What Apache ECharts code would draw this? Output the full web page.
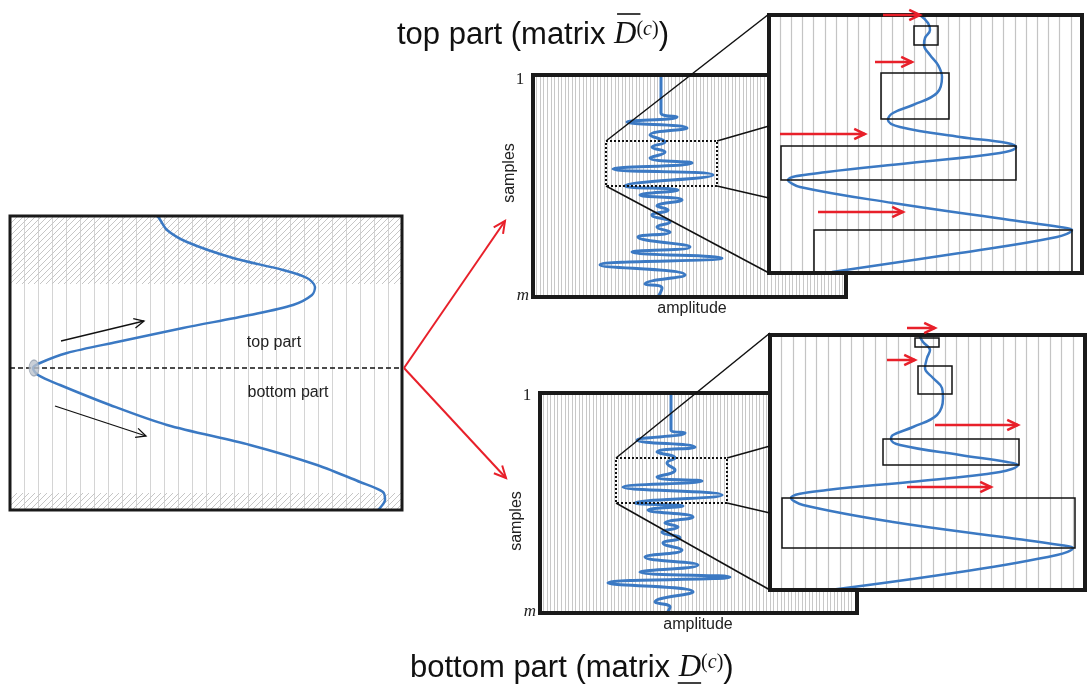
<!DOCTYPE html>
<html>
<head>
<meta charset="utf-8">
<script src="https://cdn.jsdelivr.net/npm/echarts@6/dist/echarts.min.js"></script>
<style>
html, body { margin: 0; padding: 0; background: #fff; }
#chart { width: 1088px; height: 689px; }
</style>
</head>
<body>
<div id="chart"></div>
<script>
// left panel: one wavelet, [amplitude, sample]
var leftCurve = [[147,0],[149,2],[157,14],[177,26],[223,42],[273,54],[297,62],[305,71],[302,79],[283,89],[240,99],[173,112],[107,126],[57,137],[30,147],[23,152],[28,159],[50,169],[100,189],[157,209],[240,229],[307,249],[350,266],[373,276],[375,284],[370,292],[368,294]];
var splitSample = 152;
var splitPoint = [[24, 152]];
var hatchTop = [0, 68];
var hatchBottom = [277, 294];

// seismic traces, [amplitude, sample]
var topTrace = [[0,0],[0,38],[16,42],[-34,47],[26,53],[-11,60],[4,67],[-9,72],[4,77],[-11,83],[31,88],[-48,94],[52,100],[-36,111],[17,115],[-21,120],[21,125],[-4,131],[7,135],[-9,140],[9,147],[-4,152],[9,157],[-23,162],[29,172],[-29,177],[61,183],[-61,190],[24,200],[-16,209],[1,213],[-3,222]];
var bottomTrace = [[0,0],[0,37],[14,40],[-34,47],[24,54],[-14,59],[4,65],[-4,70],[4,77],[-14,84],[31,88],[-48,94],[51,102],[-36,110],[12,113],[-23,117],[22,124],[-6,130],[7,134],[-9,139],[9,145],[-8,150],[11,157],[-26,164],[27,172],[-31,179],[59,184],[-63,190],[22,199],[-16,209],[-1,214],[-4,220]];
var topWindow = [[-55, 66], [56, 111]];
var bottomWindow = [[-55, 65], [56, 110]];

// zoomed windows
var topZoomCurve = [[151,0],[159,8],[161,15],[156,23],[155,30],[161,40],[169,50],[173,62],[168,78],[144,90],[124,98],[119,105],[131,112],[191,122],[238,128],[247,132],[231,138],[141,148],[58,157],[19,165],[31,172],[124,188],[241,205],[291,212],[303,215],[288,222],[191,238],[63,257]];
var topZoomBoxes = [[[145,11],[169,30]], [[112,58],[180,104]], [[12,131],[247,165]], [[45,215],[303,258]]];
var bottomZoomCurve = [[149,0],[153,7],[160,15],[157,23],[155,33],[163,43],[172,53],[173,63],[167,80],[143,92],[123,100],[121,104],[130,110],[190,120],[237,127],[248,130],[230,137],[140,147],[57,155],[21,163],[33,170],[123,187],[240,203],[290,210],[303,213],[287,220],[190,237],[60,255]];
var bottomZoomBoxes = [[[145,3],[169,12]], [[148,31],[182,59]], [[113,104],[249,130]], [[12,163],[305,213]]];

var BLUE = '#3b79c3';
var RED = '#e8202a';

// panel frames: left, top, width, height, border, z
var panels = [
  [10, 216, 392, 294, 3, 0],
  [533, 75, 313, 222, 4, 0],
  [769, 15, 313, 258, 4, 5],
  [540, 393, 317, 220, 4, 0],
  [770, 335, 315, 255, 4, 5]
];

var hatch = document.createElement('canvas');
hatch.width = 6; hatch.height = 6;
var hc = hatch.getContext('2d');
hc.strokeStyle = '#c6c6c6';
hc.lineWidth = 1;
hc.beginPath();
hc.moveTo(0, 6); hc.lineTo(6, 0);
hc.moveTo(-1, 1); hc.lineTo(1, -1);
hc.moveTo(5, 7); hc.lineTo(7, 5);
hc.stroke();

var mctx = document.createElement('canvas').getContext('2d');
function textW(t, font) { mctx.font = font; return mctx.measureText(t).width; }

function xAxis(gi, min, max, interval, color, width, z) {
  return {
    type: 'value', gridIndex: gi, min: min, max: max, interval: interval, z: z,
    axisLine: { show: false }, axisTick: { show: false }, axisLabel: { show: false },
    splitLine: { show: true, lineStyle: { color: color, width: width } }
  };
}
function yAxis(gi, max, z) {
  return {
    type: 'value', gridIndex: gi, min: 0, max: max, inverse: true, z: z,
    axisLine: { show: false }, axisTick: { show: false }, axisLabel: { show: false },
    splitLine: { show: false }
  };
}
function boxes(list, z, dotted) {
  return {
    silent: true, z: z,
    itemStyle: { color: 'rgba(0,0,0,0)', borderColor: '#111', borderWidth: dotted ? 2 : 1.5, borderType: dotted ? 'dotted' : 'solid' },
    data: list.map(function (b) { return [{ coord: b[0] }, { coord: b[1] }]; })
  };
}
function arrow(x1, y1, x2, y2, color, lw, head) {
  var ang = Math.atan2(y2 - y1, x2 - x1), a = 0.45;
  return [
    { type: 'line', z: 50, shape: { x1: x1, y1: y1, x2: x2, y2: y2 }, style: { stroke: color, lineWidth: lw } },
    { type: 'polyline', z: 50, shape: { points: [
      [x2 - head * Math.cos(ang - a), y2 - head * Math.sin(ang - a)], [x2, y2],
      [x2 - head * Math.cos(ang + a), y2 - head * Math.sin(ang + a)]] },
      style: { stroke: color, lineWidth: lw, fill: null } }
  ];
}
function seg(x1, y1, x2, y2, lw) {
  return { type: 'line', z: 40, shape: { x1: x1, y1: y1, x2: x2, y2: y2 }, style: { stroke: '#111', lineWidth: lw } };
}
function label(txt, x, y, font, rot) {
  return { type: 'text', z: 60, x: x, y: y, rotation: rot || 0,
    style: { text: txt, font: font, fill: '#222', textAlign: 'center', textVerticalAlign: 'middle' } };
}

var myChart = echarts.init(document.getElementById('chart'));

var graphics = [];
// frames drawn above their own content, below the next panel
panels.forEach(function (p) {
  graphics.push({ type: 'rect', z: p[5] + 4, shape: { x: p[0], y: p[1], width: p[2], height: p[3] },
    style: { fill: null, stroke: '#1a1a1a', lineWidth: p[4] } });
});
graphics = graphics.concat(arrow(404, 368, 505, 221, RED, 2, 13));
graphics = graphics.concat(arrow(404, 368, 506, 478, RED, 2, 13));
graphics = graphics.concat(arrow(61, 341, 144, 321, '#111', 1.3, 11));
graphics = graphics.concat(arrow(55, 406, 146, 436, '#111', 1.3, 11));
// red arrows in zoom windows
graphics = graphics.concat(arrow(883, 15, 920, 15, RED, 2.5, 12));
graphics = graphics.concat(arrow(875, 62, 912, 62, RED, 2.5, 12));
graphics = graphics.concat(arrow(780, 134, 865, 134, RED, 2.5, 12));
graphics = graphics.concat(arrow(818, 212, 903, 212, RED, 2.5, 12));
graphics = graphics.concat(arrow(907, 328, 935, 328, RED, 2.5, 12));
graphics = graphics.concat(arrow(887, 360, 915, 360, RED, 2.5, 12));
graphics = graphics.concat(arrow(935, 425, 1018, 425, RED, 2.5, 12));
graphics = graphics.concat(arrow(907, 487, 991, 487, RED, 2.5, 12));
// connectors from dotted windows to zoom panels
graphics.push(seg(606, 141, 769, 14, 1.5), seg(606, 186, 769, 273, 1.5),
  seg(717, 141, 769, 126, 1.5), seg(717, 186, 769, 198, 1.5),
  seg(616, 458, 770, 333, 1.5), seg(616, 503, 770, 590, 1.5),
  seg(727, 458, 770, 446, 1.5), seg(727, 503, 770, 513, 1.5));
// labels
graphics.push(
  label('top part', 274, 343, '16px "Liberation Sans"'),
  label('bottom part', 288, 393, '16px "Liberation Sans"'),
  label('1', 520, 80, '17px "Liberation Serif"'),
  label('m', 523, 296, 'italic 17px "Liberation Serif"'),
  label('samples', 510, 173, '16px "Liberation Sans"', Math.PI / 2),
  label('amplitude', 692, 309, '16px "Liberation Sans"'),
  label('1', 527, 396, '17px "Liberation Serif"'),
  label('m', 530, 612, 'italic 17px "Liberation Serif"'),
  label('samples', 517, 521, '16px "Liberation Sans"', Math.PI / 2),
  label('amplitude', 698, 625, '16px "Liberation Sans"')
);
// titles
var fA = '31px "Liberation Sans"', fD = 'italic 31px "Liberation Serif"';
var titleRich = {
  a: { font: fA, fill: '#111' },
  d: { font: fD, fill: '#111' },
  p: { font: '20px "Liberation Serif"', fill: '#111', verticalAlign: 'top' },
  c: { font: 'italic 20px "Liberation Serif"', fill: '#111', verticalAlign: 'top' }
};
var t1 = 'top part (matrix ', t2 = 'bottom part (matrix ';
var dW = textW('D', fD);
var d1 = 397 + textW(t1, fA), d2 = 410 + textW(t2, fA);
graphics.push({ type: 'text', z: 60, x: 397, y: 35,
  style: { text: '{a|' + t1 + '}{d|D}{p|(}{c|c}{p|)}{a|)}', rich: titleRich, textVerticalAlign: 'middle' } });
graphics.push({ type: 'text', z: 60, x: 410, y: 668,
  style: { text: '{a|' + t2 + '}{d|D}{p|(}{c|c}{p|)}{a|)}', rich: titleRich, textVerticalAlign: 'middle' } });
graphics.push({ type: 'line', z: 60, shape: { x1: d1 + 3, y1: 14, x2: d1 + dW + 4, y2: 14 }, style: { stroke: '#111', lineWidth: 1.6 } });
graphics.push({ type: 'line', z: 60, shape: { x1: d2 - 1, y1: 683, x2: d2 + dW, y2: 683 }, style: { stroke: '#111', lineWidth: 1.6 } });

myChart.setOption({
  animation: false,
  backgroundColor: '#fff',
  grid: panels.map(function (p) {
    return { left: p[0], top: p[1], width: p[2], height: p[3], show: true, backgroundColor: '#fff', borderWidth: 0, z: p[5] };
  }),
  xAxis: [
    xAxis(0, 0, 392, 14, '#d4d4d4', 1, 0),
    xAxis(1, -128, 185, 128 / 36, '#c8c8c8', 1, 0),
    xAxis(2, 0, 313, 313 / 28, '#c4c4c4', 1.2, 6),
    xAxis(3, -131, 186, 131 / 37, '#c8c8c8', 1, 0),
    xAxis(4, 0, 315, 315 / 27, '#c4c4c4', 1.2, 6)
  ],
  yAxis: [yAxis(0, 294, 0), yAxis(1, 222, 0), yAxis(2, 258, 6), yAxis(3, 220, 0), yAxis(4, 255, 6)],
  series: [
    {
      type: 'line', xAxisIndex: 0, yAxisIndex: 0, data: leftCurve, smooth: 0.3, showSymbol: false, z: 3,
      lineStyle: { color: BLUE, width: 2.5 },
      markArea: { silent: true, z: 1, itemStyle: { color: { image: hatch, repeat: 'repeat' } },
        data: [[{ yAxis: hatchTop[0] }, { yAxis: hatchTop[1] }], [{ yAxis: hatchBottom[0] }, { yAxis: hatchBottom[1] }]] },
      markLine: { silent: true, z: 4, symbol: 'none', label: { show: false },
        lineStyle: { color: '#111', type: [5, 3], width: 1.5 }, data: [{ yAxis: splitSample }] }
    },
    {
      type: 'scatter', xAxisIndex: 0, yAxisIndex: 0, data: splitPoint, z: 6,
      symbol: 'circle', symbolSize: [10, 16], itemStyle: { color: '#bcc3cd', borderColor: '#98a2b0', borderWidth: 1 }
    },
    {
      type: 'line', xAxisIndex: 1, yAxisIndex: 1, data: topTrace, smooth: 0.5, showSymbol: false, z: 2,
      lineStyle: { color: BLUE, width: 3 },
      markArea: boxes([topWindow], 3, true)
    },
    {
      type: 'line', xAxisIndex: 2, yAxisIndex: 2, data: topZoomCurve, smooth: 0.4, showSymbol: false, z: 7,
      lineStyle: { color: BLUE, width: 2.5 },
      markArea: boxes(topZoomBoxes, 8, false)
    },
    {
      type: 'line', xAxisIndex: 3, yAxisIndex: 3, data: bottomTrace, smooth: 0.5, showSymbol: false, z: 2,
      lineStyle: { color: BLUE, width: 3 },
      markArea: boxes([bottomWindow], 3, true)
    },
    {
      type: 'line', xAxisIndex: 4, yAxisIndex: 4, data: bottomZoomCurve, smooth: 0.4, showSymbol: false, z: 7,
      lineStyle: { color: BLUE, width: 2.5 },
      markArea: boxes(bottomZoomBoxes, 8, false)
    }
  ],
  graphic: graphics
});
</script>
</body>
</html>
